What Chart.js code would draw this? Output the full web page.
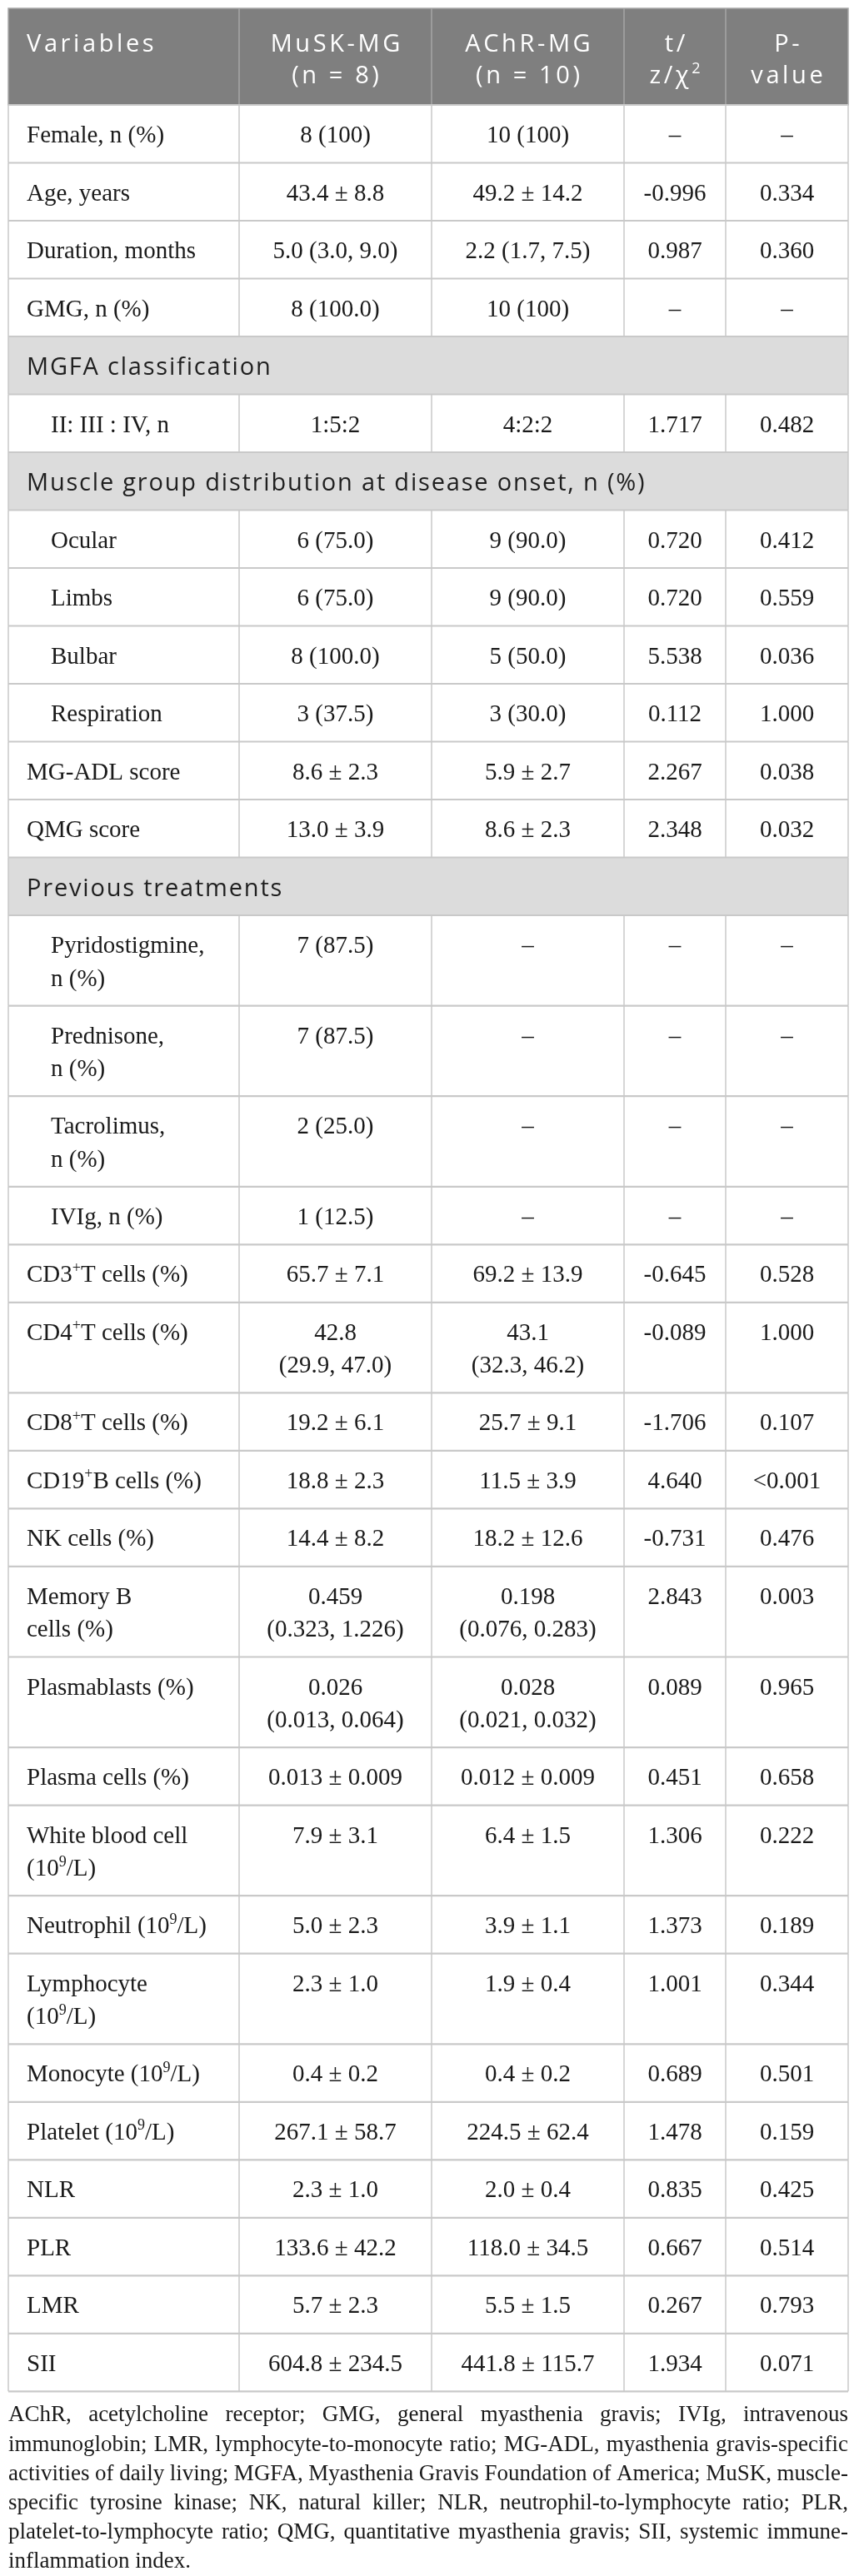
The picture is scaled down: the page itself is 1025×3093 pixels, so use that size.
<!DOCTYPE html>
<html>
<head>
<meta charset="utf-8">
<title>MuSK-MG vs AChR-MG</title>
<script src="https://cdn.jsdelivr.net/npm/chart.js@4.4.1/dist/chart.umd.min.js"></script>
<style>
  html, body { margin: 0; padding: 0; background: #fff; }
  #wrap { position: relative; width: 1025px; height: 3093px; }
</style>
</head>
<body>
<div id="wrap"><canvas id="tableChart"></canvas></div>
<script>
// column headers (line break = new line in the cell)
const headers = ['Variables', 'MuSK-MG\n(n = 8)', 'AChR-MG\n(n = 10)', 't/\nz/χ^{2}', 'P-\nvalue'];

// row labels; ^{..} = superscript
const variables = [
  'Female, n (%)', 'Age, years', 'Duration, months', 'GMG, n (%)',
  'MGFA classification',
  'II: III : IV, n',
  'Muscle group distribution at disease onset, n (%)',
  'Ocular', 'Limbs', 'Bulbar', 'Respiration', 'MG-ADL score', 'QMG score',
  'Previous treatments',
  'Pyridostigmine,\nn (%)', 'Prednisone,\nn (%)', 'Tacrolimus,\nn (%)', 'IVIg, n (%)',
  'CD3^{+}T cells (%)', 'CD4^{+}T cells (%)', 'CD8^{+}T cells (%)', 'CD19^{+}B cells (%)', 'NK cells (%)',
  'Memory B\ncells (%)', 'Plasmablasts (%)', 'Plasma cells (%)', 'White blood cell\n(10^{9}/L)',
  'Neutrophil (10^{9}/L)', 'Lymphocyte\n(10^{9}/L)', 'Monocyte (10^{9}/L)', 'Platelet (10^{9}/L)',
  'NLR', 'PLR', 'LMR', 'SII'
];

// 's' = section row spanning the table, otherwise indent level
const rowIndent = [0, 0, 0, 0, 's', 1, 's', 1, 1, 1, 1, 0, 0, 's', 1, 1, 1, 1,
  0, 0, 0, 0, 0, 0, 0, 0, 0, 0, 0, 0, 0, 0, 0, 0, 0];

const muskValues = [
  '8 (100)', '43.4 ± 8.8', '5.0 (3.0, 9.0)', '8 (100.0)', null, '1:5:2', null,
  '6 (75.0)', '6 (75.0)', '8 (100.0)', '3 (37.5)', '8.6 ± 2.3', '13.0 ± 3.9', null,
  '7 (87.5)', '7 (87.5)', '2 (25.0)', '1 (12.5)',
  '65.7 ± 7.1', '42.8\n(29.9, 47.0)', '19.2 ± 6.1', '18.8 ± 2.3', '14.4 ± 8.2',
  '0.459\n(0.323, 1.226)', '0.026\n(0.013, 0.064)', '0.013 ± 0.009', '7.9 ± 3.1',
  '5.0 ± 2.3', '2.3 ± 1.0', '0.4 ± 0.2', '267.1 ± 58.7', '2.3 ± 1.0', '133.6 ± 42.2',
  '5.7 ± 2.3', '604.8 ± 234.5'
];

const achrValues = [
  '10 (100)', '49.2 ± 14.2', '2.2 (1.7, 7.5)', '10 (100)', null, '4:2:2', null,
  '9 (90.0)', '9 (90.0)', '5 (50.0)', '3 (30.0)', '5.9 ± 2.7', '8.6 ± 2.3', null,
  '–', '–', '–', '–',
  '69.2 ± 13.9', '43.1\n(32.3, 46.2)', '25.7 ± 9.1', '11.5 ± 3.9', '18.2 ± 12.6',
  '0.198\n(0.076, 0.283)', '0.028\n(0.021, 0.032)', '0.012 ± 0.009', '6.4 ± 1.5',
  '3.9 ± 1.1', '1.9 ± 0.4', '0.4 ± 0.2', '224.5 ± 62.4', '2.0 ± 0.4', '118.0 ± 34.5',
  '5.5 ± 1.5', '441.8 ± 115.7'
];

const statValues = [
  '–', '-0.996', '0.987', '–', null, '1.717', null,
  '0.720', '0.720', '5.538', '0.112', '2.267', '2.348', null,
  '–', '–', '–', '–',
  '-0.645', '-0.089', '-1.706', '4.640', '-0.731', '2.843', '0.089', '0.451', '1.306',
  '1.373', '1.001', '0.689', '1.478', '0.835', '0.667', '0.267', '1.934'
];

const pValues = [
  '–', '0.334', '0.360', '–', null, '0.482', null,
  '0.412', '0.559', '0.036', '1.000', '0.038', '0.032', null,
  '–', '–', '–', '–',
  '0.528', '1.000', '0.107', '<0.001', '0.476', '0.003', '0.965', '0.658', '0.222',
  '0.189', '0.344', '0.501', '0.159', '0.425', '0.514', '0.793', '0.071'
];

const footnoteLines = [
  'AChR, acetylcholine receptor; GMG, general myasthenia gravis; IVIg, intravenous',
  'immunoglobin; LMR, lymphocyte-to-monocyte ratio; MG-ADL, myasthenia gravis-specific',
  'activities of daily living; MGFA, Myasthenia Gravis Foundation of America; MuSK, muscle-',
  'specific tyrosine kinase; NK, natural killer; NLR, neutrophil-to-lymphocyte ratio; PLR,',
  'platelet-to-lymphocyte ratio; QMG, quantitative myasthenia gravis; SII, systemic immune-',
  'inflammation index.'
];

// layout (page px, mapped through the chart scales)
const PAGE_W = 1025, PAGE_H = 3093;
const COL_EDGES = [10, 287, 518, 749, 871, 1018];
const TABLE_TOP = 10, HEAD_H = 116;
const ROW_PAD = 30.4, LINE_H = 39.1;
const SERIF = '"Liberation Serif", "Times New Roman", serif';
const SANS = '"Open Sans", "Noto Sans", sans-serif';

const columns = [variables, muskValues, achrValues, statValues, pValues];

// row top/bottom in y units
const rowBounds = [];
let yCursor = TABLE_TOP + HEAD_H;
variables.forEach((v, i) => {
  const lines = Math.max(...columns.map(c => (c[i] || '').split('\n').length));
  const h = ROW_PAD + lines * LINE_H;
  rowBounds.push({ top: yCursor, bottom: yCursor + h });
  yCursor += h;
});
const TABLE_BOTTOM = yCursor;

function parseRich(str) {
  return str.split(/(\^\{[^}]*\})/).filter(Boolean).map(s =>
    s.startsWith('^{') ? { text: s.slice(2, -1), sup: true } : { text: s, sup: false });
}

// draws one line with superscripts, returns nothing
function drawRich(ctx, str, x, y, align, size, family, spacing) {
  const segs = parseRich(str);
  const supSize = Math.round(size * 0.62);
  ctx.letterSpacing = (spacing || 0) + 'px';
  let total = 0;
  segs.forEach(s => {
    ctx.font = `${s.sup ? supSize : size}px ${family}`;
    s.w = ctx.measureText(s.text).width;
    total += s.w;
  });
  total -= spacing || 0;
  let cx = align === 'center' ? x - total / 2 : x;
  ctx.textAlign = 'left';
  ctx.textBaseline = 'alphabetic';
  segs.forEach(s => {
    ctx.font = `${s.sup ? supSize : size}px ${family}`;
    ctx.fillText(s.text, cx, s.sup ? y - size * 0.4 : y);
    cx += s.w;
  });
  ctx.letterSpacing = '0px';
}

const tablePlugin = {
  id: 'tablePlugin',
  afterDraw(chart) {
    const { ctx, scales: { x, y } } = chart;
    const px = v => x.getPixelForValue(v);
    const py = v => y.getPixelForValue(v);
    const left = px(COL_EDGES[0]), right = px(COL_EDGES[COL_EDGES.length - 1]);
    ctx.save();

    // header band
    ctx.fillStyle = '#7f7f7f';
    ctx.fillRect(left, py(TABLE_TOP), right - left, py(TABLE_TOP + HEAD_H) - py(TABLE_TOP));

    // section bands
    rowBounds.forEach((b, i) => {
      if (rowIndent[i] !== 's') return;
      ctx.fillStyle = '#dcdcdc';
      ctx.fillRect(left, py(b.top), right - left, py(b.bottom) - py(b.top));
    });

    // header grid
    ctx.strokeStyle = '#a6a6a6';
    ctx.lineWidth = 1.5;
    ctx.strokeRect(left, py(TABLE_TOP), right - left, py(TABLE_TOP + HEAD_H) - py(TABLE_TOP));
    COL_EDGES.slice(1, -1).forEach(e => {
      ctx.beginPath();
      ctx.moveTo(px(e), py(TABLE_TOP));
      ctx.lineTo(px(e), py(TABLE_TOP + HEAD_H));
      ctx.stroke();
    });

    // body grid
    ctx.strokeStyle = '#c9c9c9';
    rowBounds.forEach((b, i) => {
      const edges = rowIndent[i] === 's' ? [COL_EDGES[0], COL_EDGES[5]] : COL_EDGES;
      ctx.lineWidth = 1.5;
      edges.forEach(e => {
        ctx.beginPath();
        ctx.moveTo(px(e), py(b.top));
        ctx.lineTo(px(e), py(b.bottom));
        ctx.stroke();
      });
      ctx.lineWidth = 2.2;
      ctx.beginPath();
      ctx.moveTo(left, py(b.bottom));
      ctx.lineTo(right, py(b.bottom));
      ctx.stroke();
    });
    ctx.lineWidth = 2.2;
    ctx.beginPath();
    ctx.moveTo(left, py(TABLE_TOP + HEAD_H));
    ctx.lineTo(right, py(TABLE_TOP + HEAD_H));
    ctx.stroke();

    // header text
    ctx.fillStyle = '#ffffff';
    headers.forEach((h, c) => {
      h.split('\n').forEach((line, k) => {
        const by = py(TABLE_TOP + 52 + k * 38);
        if (c === 0) drawRich(ctx, line, px(COL_EDGES[0] + 22), by, 'left', 29, SANS, 3.6);
        else drawRich(ctx, line, px((COL_EDGES[c] + COL_EDGES[c + 1]) / 2), by, 'center', 29, SANS, 3.6);
      });
    });

    // body text
    rowBounds.forEach((b, i) => {
      if (rowIndent[i] === 's') {
        ctx.fillStyle = '#1f1f1f';
        drawRich(ctx, variables[i], px(COL_EDGES[0] + 22), py(b.top + 46), 'left', 29, SANS, 1.8);
        return;
      }
      ctx.fillStyle = '#1a1a1a';
      columns.forEach((col, c) => {
        const val = col[i];
        if (val == null) return;
        val.split('\n').forEach((line, k) => {
          const by = py(b.top + 45 + k * 39.5);
          if (c === 0) drawRich(ctx, line, px(COL_EDGES[0] + 22 + rowIndent[i] * 29), by, 'left', 29, SERIF);
          else drawRich(ctx, line, px((COL_EDGES[c] + COL_EDGES[c + 1]) / 2), by, 'center', 29, SERIF);
        });
      });
    });

    // footnote, justified except the last line
    ctx.fillStyle = '#1a1a1a';
    ctx.font = `27px ${SERIF}`;
    ctx.textAlign = 'left';
    footnoteLines.forEach((line, k) => {
      const by = py(TABLE_BOTTOM + 36 + k * 35.2);
      const words = line.split(' ');
      if (k === footnoteLines.length - 1 || words.length < 2) {
        ctx.fillText(line, left, by);
        return;
      }
      const widths = words.map(w => ctx.measureText(w).width);
      const gap = (right - left - widths.reduce((a, w) => a + w, 0)) / (words.length - 1);
      let cx = left;
      words.forEach((w, j) => {
        ctx.fillText(w, cx, by);
        cx += widths[j] + gap;
      });
    });

    ctx.restore();
  }
};

// one invisible anchor per row so the scales carry the table rows
const rowAnchors = rowBounds.map(b => ({ x: COL_EDGES[0], y: b.top }));

new Chart(document.getElementById('tableChart').getContext('2d'), {
  type: 'scatter',
  data: { datasets: [{ data: rowAnchors, pointRadius: 0, pointHoverRadius: 0 }] },
  options: {
    responsive: true,
    maintainAspectRatio: false,
    animation: false,
    events: [],
    layout: { padding: 0 },
    plugins: { legend: { display: false }, tooltip: { enabled: false } },
    scales: {
      x: { type: 'linear', min: 0, max: PAGE_W, display: false },
      y: { type: 'linear', min: 0, max: PAGE_H, reverse: true, display: false }
    }
  },
  plugins: [tablePlugin]
});
</script>
</body>
</html>
